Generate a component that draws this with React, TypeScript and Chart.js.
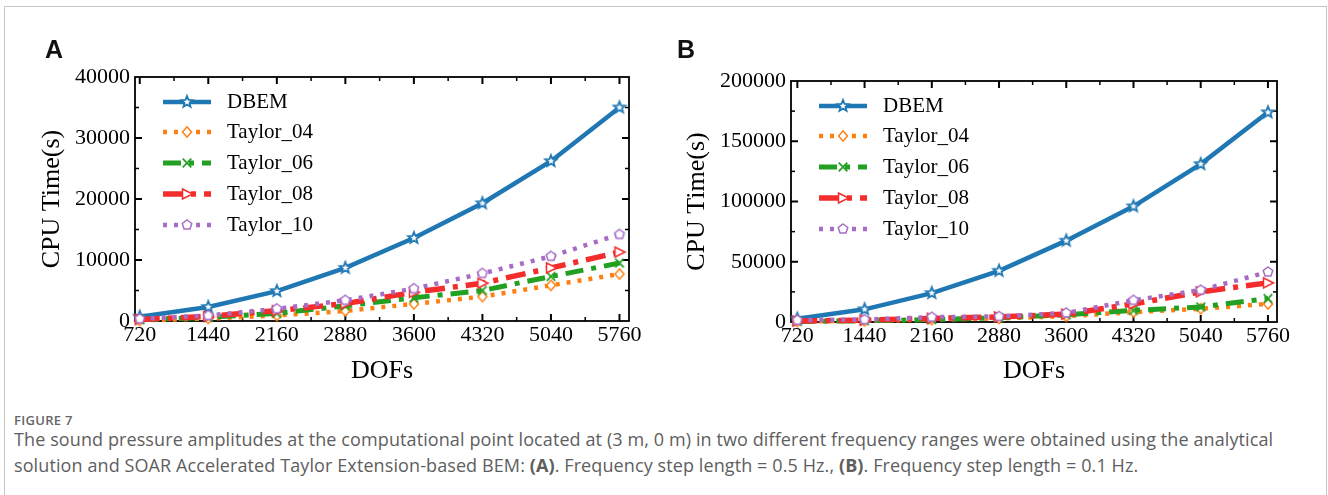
import React, { useEffect, useRef } from 'react';
import { Chart, registerables } from 'chart.js';
Chart.register(...registerables);

const DOFS = [720, 1440, 2160, 2880, 3600, 4320, 5040, 5760];
const SERIES_NAMES = ['DBEM', 'Taylor_04', 'Taylor_06', 'Taylor_08', 'Taylor_10'];

const A_DBEM = [700, 2300, 4900, 8700, 13600, 19300, 26200, 35000];
const A_T04 = [100, 400, 900, 1650, 2800, 4000, 5850, 7700];
const A_T06 = [200, 600, 1250, 2500, 3800, 5000, 7300, 9500];
const A_T08 = [250, 750, 1700, 2850, 4700, 6200, 8700, 11300];
const A_T10 = [350, 900, 2000, 3400, 5300, 7800, 10600, 14200];

const B_DBEM = [2700, 10500, 24000, 42500, 67500, 96000, 131000, 174000];
const B_T04 = [400, 1000, 2000, 3000, 4800, 8200, 11000, 15000];
const B_T06 = [500, 1000, 2000, 3500, 6000, 9600, 12500, 19500];
const B_T08 = [800, 1500, 3000, 4200, 6500, 15000, 25000, 32500];
const B_T10 = [1500, 2000, 4000, 4600, 7500, 18000, 26500, 41500];

const A_Y_TICKS = [0, 10000, 20000, 30000, 40000];
const B_Y_TICKS = [0, 50000, 100000, 150000, 200000];

const COLORS = ['#1f78b4', '#ff8012', '#22a022', '#f42c2c', '#a76cc6'];
const WIDTHS = [4.5, 4.5, 5, 5.5, 4.5];
const DASHES: number[][] = [[], [4, 7], [18, 8, 5, 8], [20, 8, 5, 8], [4, 7]];
const MARKERS = ['star', 'diamond', 'x', 'tri', 'pent'];
const ORDERS = [5, 4, 3, 2, 1];

function makeMarker(kind: string, color: string) {
  const s = 18;
  const c = document.createElement('canvas');
  c.width = s; c.height = s;
  const ctx = c.getContext('2d')!;
  const cx = s / 2, cy = s / 2;
  ctx.strokeStyle = color; ctx.fillStyle = '#fff'; ctx.lineWidth = 1.5;
  ctx.beginPath();
  if (kind === 'star') {
    for (let i = 0; i < 10; i++) {
      const a = -Math.PI / 2 + (i * Math.PI) / 5;
      const r = i % 2 ? 2.6 : 6;
      const px = cx + r * Math.cos(a), py = cy + r * Math.sin(a);
      if (i === 0) ctx.moveTo(px, py); else ctx.lineTo(px, py);
    }
    ctx.closePath(); ctx.fill(); ctx.lineWidth = 1.8; ctx.stroke();
  } else if (kind === 'diamond') {
    ctx.moveTo(cx, cy - 5.2); ctx.lineTo(cx + 4.5, cy); ctx.lineTo(cx, cy + 5.2); ctx.lineTo(cx - 4.5, cy);
    ctx.closePath(); ctx.fill(); ctx.stroke();
  } else if (kind === 'x') {
    ctx.lineWidth = 1.7;
    ctx.moveTo(cx - 4.3, cy - 4.3); ctx.lineTo(cx + 4.3, cy + 4.3);
    ctx.moveTo(cx + 4.3, cy - 4.3); ctx.lineTo(cx - 4.3, cy + 4.3);
    ctx.stroke();
  } else if (kind === 'tri') {
    ctx.moveTo(cx + 5.5, cy); ctx.lineTo(cx - 4.5, cy - 5); ctx.lineTo(cx - 4.5, cy + 5);
    ctx.closePath(); ctx.fill(); ctx.stroke();
  } else {
    for (let i = 0; i < 5; i++) {
      const a = -Math.PI / 2 + (i * 2 * Math.PI) / 5;
      const px = cx + 5 * Math.cos(a), py = cy + 5 * Math.sin(a);
      if (i === 0) ctx.moveTo(px, py); else ctx.lineTo(px, py);
    }
    ctx.closePath(); ctx.fill(); ctx.stroke();
  }
  return c;
}

const framePlugin = {
  id: 'frame',
  beforeDatasetsDraw(chart: any) {
    const { ctx, chartArea } = chart;
    const { left, right, top, bottom } = chartArea;
    const xs = chart.scales.x, ys = chart.scales.y;
    const yTicks: number[] = chart.options.plugins.frame.yTicks;
    ctx.save();
    ctx.strokeStyle = '#000';
    ctx.lineWidth = 1.8;
    ctx.strokeRect(left, top, right - left, bottom - top);
    const tick = (x1: number, y1: number, x2: number, y2: number, w: number) => {
      ctx.lineWidth = w;
      ctx.beginPath(); ctx.moveTo(x1, y1); ctx.lineTo(x2, y2); ctx.stroke();
    };
    DOFS.forEach((v) => {
      const px = xs.getPixelForValue(v);
      tick(px, bottom, px, bottom - 7, 2);
      tick(px, top, px, top + 7, 2);
      const m = v + 360;
      if (m < xs.max) {
        const pm = xs.getPixelForValue(m);
        tick(pm, bottom, pm, bottom - 4, 1.5);
        tick(pm, top, pm, top + 4, 1.5);
      }
    });
    yTicks.forEach((v, i) => {
      const py = ys.getPixelForValue(v);
      if (i > 0 && i < yTicks.length - 1) {
        tick(left, py, left + 7, py, 2);
        tick(right, py, right - 7, py, 2);
      }
      if (i < yTicks.length - 1) {
        const pm = ys.getPixelForValue((v + yTicks[i + 1]) / 2);
        tick(left, pm, left + 4, pm, 1.5);
        tick(right, pm, right - 4, pm, 1.5);
      }
    });
    ctx.restore();
  },
};

const legendPlugin = {
  id: 'inlegend',
  afterDraw(chart: any) {
    const { ctx, chartArea } = chart;
    const x0 = chartArea.left + 28, x1 = x0 + 48, tx = chartArea.left + 92;
    chart.data.datasets.forEach((ds: any, i: number) => {
      const y = Math.round(chartArea.top + 24.5 + i * 30.8);
      ctx.save();
      ctx.strokeStyle = ds.borderColor;
      ctx.lineWidth = ds.borderWidth;
      ctx.setLineDash(ds.borderDash || []);
      ctx.beginPath(); ctx.moveTo(x0, y); ctx.lineTo(x1, y); ctx.stroke();
      ctx.setLineDash([]);
      const img = ds.pointStyle;
      ctx.drawImage(img, (x0 + x1) / 2 - img.width / 2, y - img.height / 2);
      ctx.fillStyle = '#000';
      ctx.font = '21px "Liberation Serif"';
      ctx.textBaseline = 'middle';
      ctx.fillText(ds.label, tx, y);
      ctx.restore();
    });
  },
};

type Cfg = {
  series: number[][];
  yMax: number;
  yTicks: number[];
  xMin: number;
  xMax: number;
  padTop: number;
  padRight: number;
  yWidth: number;
  xHeight: number;
  yTitlePad: number;
};

function Panel({ cfg, left }: { cfg: Cfg; left: number }) {
  const ref = useRef<HTMLCanvasElement>(null);
  useEffect(() => {
    const datasets = cfg.series.map((vals, i) => ({
      label: SERIES_NAMES[i],
      data: vals.map((y, j) => ({ x: DOFS[j], y })),
      borderColor: COLORS[i],
      backgroundColor: COLORS[i],
      borderWidth: WIDTHS[i],
      borderDash: DASHES[i],
      borderCapStyle: 'butt',
      pointStyle: makeMarker(MARKERS[i], COLORS[i]),
      pointRadius: 6,
      pointHoverRadius: 6,
      tension: 0,
      fill: false,
      clip: false,
      order: ORDERS[i],
    }));
    const chart = new Chart(ref.current!, {
      type: 'line',
      data: { datasets } as any,
      plugins: [framePlugin, legendPlugin],
      options: {
        animation: false,
        responsive: false,
        maintainAspectRatio: false,
        events: [],
        layout: { padding: { left: 0, top: cfg.padTop, right: cfg.padRight, bottom: 0 } },
        plugins: {
          legend: { display: false },
          tooltip: { enabled: false },
          frame: { yTicks: cfg.yTicks },
        } as any,
        scales: {
          x: {
            type: 'linear',
            min: cfg.xMin,
            max: cfg.xMax,
            afterBuildTicks: (s: any) => { s.ticks = DOFS.map((v) => ({ value: v })); },
            afterFit: (s: any) => { s.height = cfg.xHeight; },
            grid: { display: false, drawTicks: false },
            border: { display: false },
            ticks: {
              autoSkip: false, maxRotation: 0, minRotation: 0, padding: 1, color: '#000',
              font: { family: 'Liberation Serif', size: 22 },
              callback: (v: any) => String(v),
            },
            title: {
              display: true, text: 'DOFs', color: '#000',
              font: { family: 'Liberation Serif', size: 26 },
              padding: { top: 0, bottom: 13 },
            },
          },
          y: {
            min: 0,
            max: cfg.yMax,
            afterBuildTicks: (s: any) => { s.ticks = cfg.yTicks.map((v) => ({ value: v })); },
            afterFit: (s: any) => { s.width = cfg.yWidth; },
            grid: { display: false, drawTicks: false },
            border: { display: false },
            ticks: {
              padding: 5, color: '#000',
              font: { family: 'Liberation Serif', size: 22 },
              callback: (v: any) => String(v),
            },
            title: {
              display: true, text: 'CPU Time(s)', color: '#000',
              font: { family: 'Liberation Serif', size: 26 },
              padding: { top: cfg.yTitlePad, bottom: 0 },
            },
          },
        },
      } as any,
    });
    return () => chart.destroy();
  }, []);
  return (
    <canvas ref={ref} width={664} height={400}
      style={{ position: 'absolute', left, top: 0, width: 664, height: 400 }} />
  );
}

const CFG_A: Cfg = {
  series: [A_DBEM, A_T04, A_T06, A_T08, A_T10],
  yMax: 40000, yTicks: A_Y_TICKS, xMin: 670, xMax: 5860,
  padTop: 77, padRight: 35, yWidth: 135, xHeight: 79, yTitlePad: 37,
};
const CFG_B: Cfg = {
  series: [B_DBEM, B_T04, B_T06, B_T08, B_T10],
  yMax: 200000, yTicks: B_Y_TICKS, xMin: 652, xMax: 5857,
  padTop: 81, padRight: 51, yWidth: 127, xHeight: 78, yTitlePad: 18,
};

export default function App() {
  const panelLetter: React.CSSProperties = {
    position: 'absolute', top: 37, font: 'bold 25px "Liberation Sans"', lineHeight: '25px', color: '#111',
  };
  const cap: React.CSSProperties = {
    position: 'absolute', left: 14, whiteSpace: 'nowrap', fontFamily: '"Open Sans"', fontSize: 18,
    letterSpacing: 0.1, color: '#5e5e5e', lineHeight: '22px',
  };
  return (
    <div style={{ position: 'absolute', left: 0, top: 0, width: 1328, height: 495, overflow: 'hidden', background: '#fff' }}>
      <div style={{ position: 'absolute', left: 4, top: 6, width: 1321, height: 520, border: '1px solid #c6c6c6' }} />
      <Panel cfg={CFG_A} left={0} />
      <Panel cfg={CFG_B} left={664} />
      <div style={{ ...panelLetter, left: 45 }}>A</div>
      <div style={{ ...panelLetter, left: 677 }}>B</div>
      <div style={{ ...cap, top: 411, fontSize: 13, fontWeight: 600, color: '#666', letterSpacing: 0.3, lineHeight: '18px' }}>FIGURE 7</div>
      <div style={{ ...cap, top: 428 }}>
        The sound pressure amplitudes at the computational point located at (3 m, 0 m) in two different frequency ranges were obtained using the analytical
      </div>
      <div style={{ ...cap, top: 454 }}>
        solution and SOAR Accelerated Taylor Extension-based BEM: <b>(A)</b>. Frequency step length = 0.5 Hz., <b>(B)</b>. Frequency step length = 0.1 Hz.
      </div>
    </div>
  );
}
